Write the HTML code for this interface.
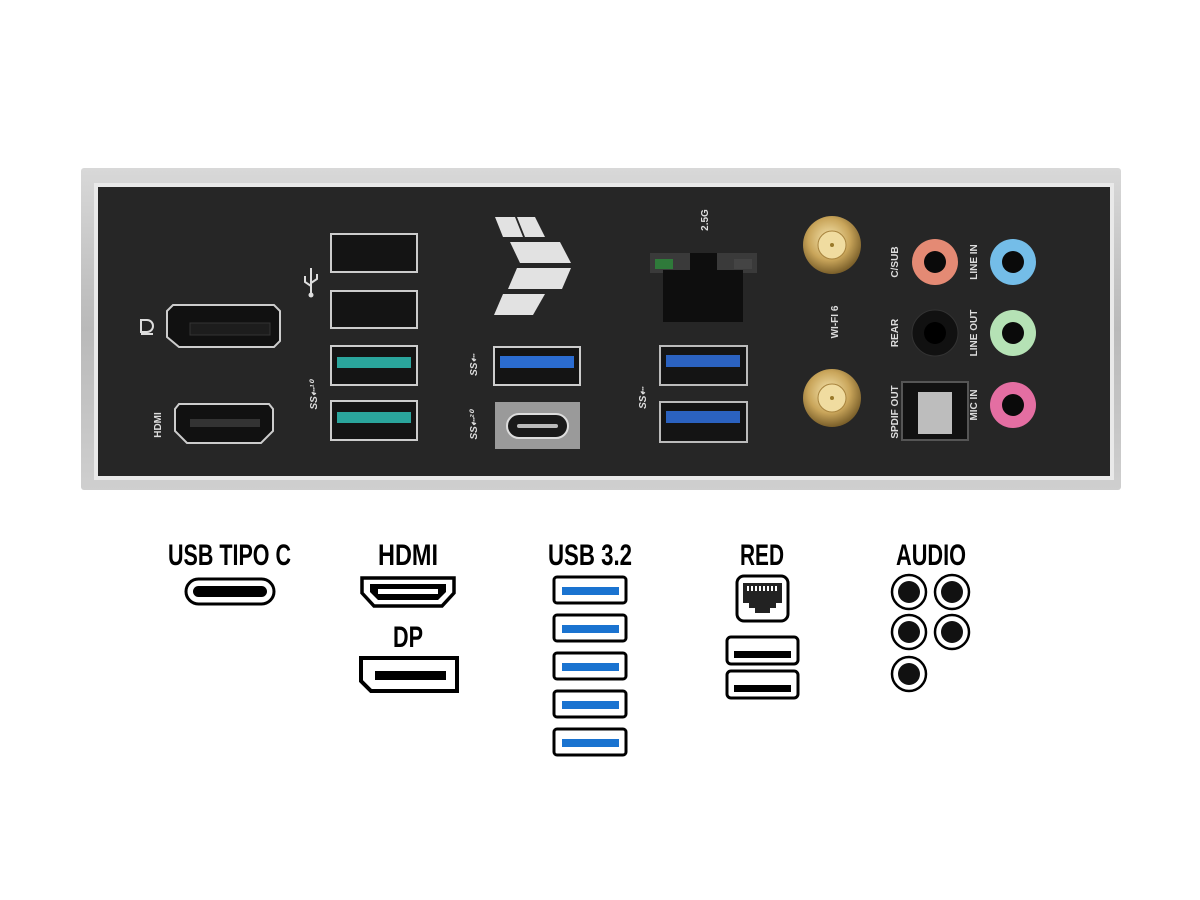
<!DOCTYPE html>
<html><head><meta charset="utf-8"><style>
html,body{margin:0;padding:0;background:#fff;width:1200px;height:900px;overflow:hidden}
svg{display:block}
.lbl{font-family:"Liberation Sans",sans-serif;font-weight:bold;fill:#ddd;font-size:10px}
.t{font-family:"Liberation Sans Narrow","Liberation Sans",sans-serif;font-weight:bold;font-size:30px;fill:#000}
</style></head><body>
<svg width="1200" height="900" viewBox="0 0 1200 900" xmlns="http://www.w3.org/2000/svg">
<defs>
<linearGradient id="sil" x1="0" y1="0" x2="0" y2="1"><stop offset="0" stop-color="#d8d8d8"/><stop offset="0.5" stop-color="#b9b9b9"/><stop offset="1" stop-color="#cfcfcf"/></linearGradient>
<radialGradient id="gold" cx="0.45" cy="0.4" r="0.6"><stop offset="0" stop-color="#f6e6b0"/><stop offset="0.6" stop-color="#c9a55a"/><stop offset="1" stop-color="#7a5f2a"/></radialGradient>
</defs>
<!-- shield -->
<rect x="81" y="168" width="1040" height="322" fill="url(#sil)" rx="3"/>
<rect x="94" y="183" width="1020" height="297" fill="#e9e9e9"/>
<rect x="98" y="187" width="1012" height="289" fill="#262626"/>

<!-- DP -->
<path d="M167 311 l6 -6 h101 l6 6 v30 l-6 6 h-95 l-12 -10 z" fill="#111" stroke="#ccc" stroke-width="2"/>
<rect x="190" y="323" width="80" height="12" fill="#1d1d1d" stroke="#333"/>
<path d="M141 320 h6 a6 6 0 0 1 0 12 h-6 z M141 334 h12" fill="none" stroke="#ddd" stroke-width="2"/>
<!-- HDMI -->
<path d="M175 409 l4 -5 h90 l4 5 v22 l-12 12 h-74 l-12 -12 z" fill="#111" stroke="#ccc" stroke-width="2"/>
<rect x="190" y="419" width="70" height="8" fill="#333"/>
<text class="lbl" transform="translate(161,425) rotate(-90)" text-anchor="middle" font-size="11">HDMI</text>

<!-- USB 2 -->
<g stroke="#ccc" stroke-width="2">
<rect x="331" y="234" width="86" height="38" fill="#141414"/>
<rect x="331" y="291" width="86" height="37" fill="#141414"/>
<rect x="331" y="346" width="86" height="39" fill="#141414"/>
<rect x="331" y="401" width="86" height="39" fill="#141414"/>
</g>
<rect x="337" y="357" width="74" height="11" fill="#2aa59c"/>
<rect x="337" y="412" width="74" height="11" fill="#2aa59c"/>
<g stroke="#ddd" stroke-width="2" fill="none">
<path d="M311 268 v26 M305 276 v6 l6 4 M317 274 v5 l-6 4"/>
</g>
<circle cx="311" cy="295" r="2.5" fill="#ddd"/>
<text class="lbl" transform="translate(317,395) rotate(-90)" text-anchor="middle" font-size="12" font-style="italic">SS⇠¹⁰</text>

<!-- logo -->
<g fill="#e2e2e2">
<polygon points="495,217 515,217 523,237 503,237"/>
<polygon points="517,217 535,217 545,237 525,237"/>
<polygon points="510,242 560,242 571,263 520,263"/>
<polygon points="517,268 571,268 562,289 508,289"/>
<polygon points="503,294 545,294 533,315 494,315"/>
</g>
<!-- blue usb / type-c -->
<rect x="494" y="347" width="86" height="38" fill="#141414" stroke="#ccc" stroke-width="2"/>
<rect x="500" y="356" width="74" height="12" fill="#2b6cd0"/>
<rect x="495" y="402" width="85" height="47" fill="#9a9a9a"/>
<rect x="507" y="414" width="61" height="24" rx="12" fill="#1a1a1a" stroke="#ddd" stroke-width="2"/>
<rect x="517" y="424" width="41" height="4" rx="2" fill="#bbb"/>
<text class="lbl" transform="translate(477,365) rotate(-90)" text-anchor="middle" font-size="12" font-style="italic">SS⇠</text>
<text class="lbl" transform="translate(477,425) rotate(-90)" text-anchor="middle" font-size="12" font-style="italic">SS⇠²⁰</text>

<!-- RJ45 -->
<text class="lbl" transform="translate(708,220) rotate(-90)" text-anchor="middle" font-size="13">2.5G</text>
<rect x="650" y="253" width="107" height="20" fill="#3a3a3a"/>
<rect x="655" y="259" width="18" height="10" fill="#2f7a3a"/>
<rect x="734" y="259" width="18" height="10" fill="#444"/>
<rect x="663" y="270" width="80" height="52" fill="#0e0e0e"/>
<rect x="690" y="253" width="27" height="18" fill="#0e0e0e"/>
<!-- blue usb right -->
<g stroke="#bbb" stroke-width="2" fill="#141414">
<rect x="660" y="346" width="87" height="39"/>
<rect x="660" y="402" width="87" height="40"/>
</g>
<rect x="666" y="355" width="74" height="12" fill="#2b62c0"/>
<rect x="666" y="411" width="74" height="12" fill="#2b62c0"/>
<text class="lbl" transform="translate(646,398) rotate(-90)" text-anchor="middle" font-size="12" font-style="italic">SS⇠</text>

<!-- antennas -->
<circle cx="832" cy="245" r="29" fill="url(#gold)"/>
<circle cx="832" cy="245" r="14" fill="#f0dca0" stroke="#a8843e"/>
<circle cx="832" cy="245" r="2" fill="#9a7a2a"/>
<circle cx="832" cy="398" r="29" fill="url(#gold)"/>
<circle cx="832" cy="398" r="14" fill="#f0dca0" stroke="#a8843e"/>
<circle cx="832" cy="398" r="2" fill="#9a7a2a"/>
<text class="lbl" transform="translate(838,322) rotate(-90)" text-anchor="middle" font-size="13">WI-FI 6</text>

<!-- audio -->
<g>
<circle cx="935" cy="262" r="23" fill="#e48a74"/><circle cx="935" cy="262" r="11" fill="#0a0a0a"/>
<circle cx="1013" cy="262" r="23" fill="#74bde8"/><circle cx="1013" cy="262" r="11" fill="#0a0a0a"/>
<circle cx="935" cy="333" r="23" fill="#111" stroke="#333"/><circle cx="935" cy="333" r="11" fill="#000"/>
<circle cx="1013" cy="333" r="23" fill="#b5e2b5"/><circle cx="1013" cy="333" r="11" fill="#0a0a0a"/>
<circle cx="1013" cy="405" r="23" fill="#e46ea2"/><circle cx="1013" cy="405" r="11" fill="#0a0a0a"/>
<rect x="902" y="382" width="66" height="58" fill="#111" stroke="#555" stroke-width="2"/>
<rect x="918" y="392" width="34" height="42" fill="#bdbdbd"/>
</g>
<g>
<text transform="translate(898,262) rotate(-90)" text-anchor="middle" class="lbl" font-size="9">C/SUB</text>
<text transform="translate(898,333) rotate(-90)" text-anchor="middle" class="lbl" font-size="9">REAR</text>
<text transform="translate(898,412) rotate(-90)" text-anchor="middle" class="lbl" font-size="9">SPDIF OUT</text>
<text transform="translate(977,262) rotate(-90)" text-anchor="middle" class="lbl" font-size="9">LINE IN</text>
<text transform="translate(977,333) rotate(-90)" text-anchor="middle" class="lbl" font-size="9">LINE OUT</text>
<text transform="translate(977,405) rotate(-90)" text-anchor="middle" class="lbl" font-size="9">MIC IN</text>
</g>

<!-- legend titles -->
<text class="t" x="168" y="565" textLength="123" lengthAdjust="spacingAndGlyphs">USB TIPO C</text>
<text class="t" x="378" y="565" textLength="60" lengthAdjust="spacingAndGlyphs">HDMI</text>
<text class="t" x="393" y="647" textLength="30" lengthAdjust="spacingAndGlyphs">DP</text>
<text class="t" x="548" y="565" textLength="84" lengthAdjust="spacingAndGlyphs">USB 3.2</text>
<text class="t" x="740" y="565" textLength="44" lengthAdjust="spacingAndGlyphs">RED</text>
<text class="t" x="896" y="565" textLength="70" lengthAdjust="spacingAndGlyphs">AUDIO</text>

<!-- usb-c icon -->
<rect x="186" y="579" width="88" height="25" rx="12.5" fill="#fff" stroke="#000" stroke-width="3"/>
<rect x="193" y="586" width="74" height="11" rx="5.5" fill="#000"/>
<!-- hdmi icon -->
<path d="M362 578 h92 v15 l-12 13 h-68 l-12 -13 z" fill="#fff" stroke="#000" stroke-width="3.5"/>
<path d="M370 584 h76 v8 l-8 8 h-60 l-8 -8 z" fill="#000"/>
<rect x="378" y="589" width="60" height="5" fill="#fff"/>
<!-- dp icon -->
<path d="M361 658 h96 v33 h-86 l-10 -10 z" fill="#fff" stroke="#000" stroke-width="4"/>
<rect x="375" y="671" width="71" height="9" fill="#000"/>
<!-- usb 3.2 icons -->
<g fill="#fff" stroke="#000" stroke-width="3">
<rect x="554" y="577" width="72" height="26" rx="3"/>
<rect x="554" y="615" width="72" height="26" rx="3"/>
<rect x="554" y="653" width="72" height="26" rx="3"/>
<rect x="554" y="691" width="72" height="26" rx="3"/>
<rect x="554" y="729" width="72" height="26" rx="3"/>
</g>
<g fill="#1a73d0">
<rect x="562" y="587" width="57" height="8"/>
<rect x="562" y="625" width="57" height="8"/>
<rect x="562" y="663" width="57" height="8"/>
<rect x="562" y="701" width="57" height="8"/>
<rect x="562" y="739" width="57" height="8"/>
</g>
<!-- rj45 icon -->
<rect x="737" y="576" width="51" height="45" rx="7" fill="#fff" stroke="#000" stroke-width="3"/>
<path d="M743 583 h39 v20 h-6 v5 h-6 v5 h-15 v-5 h-6 v-5 h-6 z" fill="#222"/>
<g fill="#fff"><rect x="747" y="586" width="2" height="5"/><rect x="751" y="586" width="2" height="5"/><rect x="755" y="586" width="2" height="5"/><rect x="759" y="586" width="2" height="5"/><rect x="763" y="586" width="2" height="5"/><rect x="767" y="586" width="2" height="5"/><rect x="771" y="586" width="2" height="5"/><rect x="775" y="586" width="2" height="5"/></g>
<rect x="727" y="637" width="71" height="27" rx="4" fill="#fff" stroke="#000" stroke-width="3"/>
<rect x="734" y="651" width="57" height="7" fill="#000"/>
<rect x="727" y="671" width="71" height="27" rx="4" fill="#fff" stroke="#000" stroke-width="3"/>
<rect x="734" y="685" width="57" height="7" fill="#000"/>
<!-- audio icons -->
<g fill="#fff" stroke="#000" stroke-width="2.5">
<circle cx="909" cy="592" r="17"/><circle cx="952" cy="592" r="17"/>
<circle cx="909" cy="632" r="17"/><circle cx="952" cy="632" r="17"/>
<circle cx="909" cy="674" r="17"/>
</g>
<g fill="#111">
<circle cx="909" cy="592" r="11"/><circle cx="952" cy="592" r="11"/>
<circle cx="909" cy="632" r="11"/><circle cx="952" cy="632" r="11"/>
<circle cx="909" cy="674" r="11"/>
</g>
</svg>
</body></html>
